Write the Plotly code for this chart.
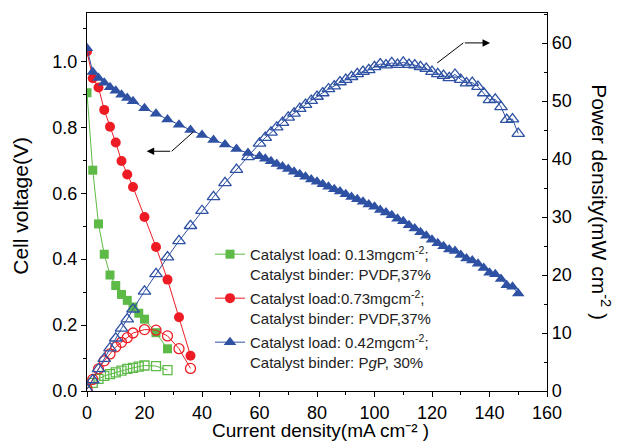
import plotly.graph_objects as go

# ---------------- data ----------------
x_green = [0, 2, 4, 6, 8, 10, 12, 14, 16, 18, 20, 24, 28]
v_green = [0.905, 0.670, 0.507, 0.415, 0.352, 0.320, 0.293, 0.275, 0.255, 0.236, 0.218, 0.177, 0.128]
p_green = [0.3, 1.4, 2.1, 2.6, 2.9, 3.2, 3.5, 3.8, 4.0, 4.2, 4.4, 4.3, 3.6]

x_red = [0, 2, 4, 6, 8, 10, 12, 14, 16, 20, 24, 28, 32, 36]
v_red = [1.030, 0.949, 0.921, 0.853, 0.802, 0.754, 0.698, 0.657, 0.619, 0.528, 0.437, 0.338, 0.224, 0.107]
p_red = [0.3, 2.0, 3.8, 5.2, 6.4, 7.6, 8.4, 9.2, 10.0, 10.6, 10.5, 9.5, 7.3, 3.9]

x_blue = [0, 2, 4, 6, 8, 10, 12, 14, 16, 20, 24, 28, 32, 36, 40, 44, 48, 52, 56,
          60, 62, 64, 66, 68, 70, 72, 74, 76, 78, 80, 82, 84, 86, 88, 90, 92, 94, 96, 98,
          100, 102, 104, 106, 108, 110, 112, 114, 116, 118, 120, 122, 124, 126, 128, 130,
          132, 134, 136, 138, 140, 142, 144, 146, 148, 150]
v_blue = [1.040, 0.968, 0.950, 0.935, 0.922, 0.911, 0.899, 0.889, 0.879, 0.858, 0.841, 0.824,
          0.808, 0.792, 0.777, 0.762, 0.748, 0.734, 0.722,
          0.712, 0.705, 0.697, 0.689, 0.681, 0.674, 0.665, 0.658, 0.650, 0.642, 0.635, 0.627,
          0.620, 0.612, 0.605, 0.597, 0.589, 0.582, 0.574, 0.566, 0.559, 0.549, 0.542, 0.533,
          0.523, 0.515, 0.503, 0.493, 0.482, 0.471, 0.459, 0.448, 0.439, 0.429, 0.425, 0.413,
          0.402, 0.396, 0.386, 0.373, 0.359, 0.354, 0.340, 0.321, 0.316, 0.296]
p_blue = [0.3, 1.9, 3.8, 5.6, 7.4, 9.1, 10.8, 12.4, 14.1, 17.2, 20.2, 23.1, 25.9, 28.5, 31.1,
          33.5, 35.9, 38.2, 40.4,
          42.7, 43.7, 44.6, 45.5, 46.3, 47.2, 47.9, 48.7, 49.4, 50.1, 50.8, 51.4, 52.1, 52.6,
          53.3, 53.7, 54.2, 54.7, 55.1, 55.4, 55.9, 56.4, 56.2, 56.6, 56.3, 56.7, 56.3, 56.2,
          55.9, 55.6, 55.1, 54.7, 54.4, 54.0, 54.6, 53.7, 53.1, 53.2, 52.5, 51.4, 50.2, 50.3,
          49.0, 46.8, 46.9, 44.4]

names = [
    "Catalyst load: 0.13mgcm<sup>-2</sup>;<br>Catalyst binder: PVDF,37%",
    "Catalyst load:0.73mgcm<sup>-2</sup>;<br>Catalyst binder: PVDF,37%",
    "Catalyst load: 0.42mgcm<sup>-2</sup>;<br>Catalyst binder: P<i>g</i>P, 30%",
]

GREEN = "#5DBA47"
RED = "#ED1C24"
BLUE = "#2E51A3"
FONT = "Liberation Sans, Arial, sans-serif"

fig = go.Figure()

series = [
    (x_green, v_green, p_green, GREEN, "square", 9),
    (x_red, v_red, p_red, RED, "circle", 10),
    (x_blue, v_blue, p_blue, BLUE, "triangle-up", 11),
]

for i, (xs, vs, ps, col, sym, sz) in enumerate(series):
    fig.add_trace(go.Scatter(
        x=xs, y=vs, mode="lines+markers", name=names[i], legendgroup=f"g{i}",
        line=dict(color=col, width=1),
        marker=dict(symbol=sym, size=sz, color=col, line=dict(width=0)),
        yaxis="y",
    ))
for i, (xs, vs, ps, col, sym, sz) in enumerate(series):
    fig.add_trace(go.Scatter(
        x=xs, y=ps, mode="lines+markers", showlegend=False,
        line=dict(color=col, width=1),
        marker=dict(symbol=sym + "-open", size=sz, color=col, line=dict(width=1.3, color=col)),
        yaxis="y2",
    ))

axis_common = dict(
    showline=True, linecolor="black", linewidth=1.3, showgrid=False, zeroline=False,
    tickcolor="black", tickwidth=1, ticklen=5,
    tickfont=dict(family=FONT, size=18, color="black"),
)

fig.update_layout(
    width=619, height=443,
    margin=dict(l=87, r=72, t=13, b=52),
    paper_bgcolor="white", plot_bgcolor="white",
    font=dict(family=FONT, color="black"),
    xaxis=dict(range=[0, 160], dtick=20, ticks="outside", mirror=True,
               minor=dict(dtick=10, ticks="outside", ticklen=3, tickcolor="black"),
               **axis_common),
    yaxis=dict(range=[0, 1.147], dtick=0.2, tickformat=".1f", ticks="outside",
               minor=dict(dtick=0.1, ticks="outside", ticklen=3, tickcolor="black"),
               **axis_common),
    yaxis2=dict(range=[0, 65.2], dtick=10, overlaying="y", side="right", ticks="inside",
                minor=dict(dtick=5, ticks="inside", ticklen=3, tickcolor="black"),
                **axis_common),
    showlegend=True,
    legend=dict(x=0.2674, y=0.405, xanchor="left", yanchor="top",
                bgcolor="rgba(0,0,0,0)", font=dict(family=FONT, size=15, color="#222"),
                valign="top", tracegroupgap=2, itemwidth=30),
)

# axis titles as annotations
fig.add_annotation(text="Cell voltage(V)", xref="paper", yref="paper", x=-0.1435, y=0.49,
                   textangle=-90, showarrow=False, xanchor="center", yanchor="middle",
                   font=dict(family=FONT, size=21, color="black"))
fig.add_annotation(text="Power density(mW cm<sup>-2</sup> )", xref="paper", yref="paper",
                   x=1.117, y=0.50, textangle=90, showarrow=False,
                   xanchor="center", yanchor="middle",
                   font=dict(family=FONT, size=21, color="black"))
fig.add_annotation(text="Current density(mA cm\u207b\u00b2 )", xref="paper", yref="paper",
                   x=0.508, y=-0.1376, showarrow=False, xanchor="center", yanchor="bottom",
                   font=dict(family=FONT, size=19, color="black"))

# pointer arrows
fig.add_shape(type="line", xref="x", yref="y", x0=36.97, y0=0.786, x1=29.46, y1=0.7275,
              line=dict(color="black", width=1))
fig.add_annotation(x=20.77, y=0.7275, ax=29.46, ay=0.7275, xref="x", yref="y",
                   axref="x", ayref="y", text="", showarrow=True, arrowhead=2,
                   arrowsize=1.5, arrowwidth=1, arrowcolor="black", standoff=0)
fig.add_shape(type="line", xref="x", yref="y", x0=121.8, y0=0.9954, x1=130.9, y1=1.0562,
              line=dict(color="black", width=1))
fig.add_annotation(x=140.2, y=1.0562, ax=130.9, ay=1.0562, xref="x", yref="y",
                   axref="x", ayref="y", text="", showarrow=True, arrowhead=2,
                   arrowsize=1.5, arrowwidth=1, arrowcolor="black", standoff=0)

fig.write_html(
    "out.html",
    config={"displayModeBar": False},
    post_script="document.body.style.margin='0';document.body.style.padding='0';"
                "document.body.style.overflow='hidden';",
)
